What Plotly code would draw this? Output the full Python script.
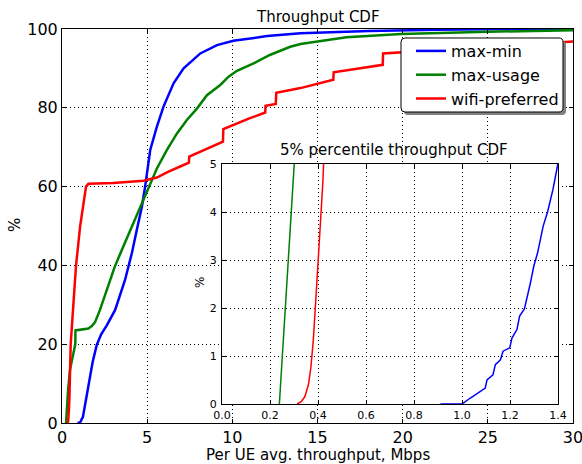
import plotly.graph_objects as go

# ---------------- data ----------------
series_names = ["max-min", "max-usage", "wifi-preferred"]

maxmin_x = [0.91, 1.0, 1.035, 1.076, 1.097, 1.104, 1.129, 1.139, 1.16, 1.171, 1.199, 1.208, 1.229,
            1.24, 1.26, 1.285, 1.299, 1.315, 1.338, 1.357, 1.379, 1.399, 1.5, 1.62, 1.8, 2.04,
            2.3, 2.63, 3.12, 3.7, 4.1, 4.39, 4.69, 4.88, 5.18, 5.57, 5.96, 6.55, 7.14, 8.12,
            9.1, 10.06, 12.04, 14.0, 18.0, 22.0, 26.0, 30.0]
maxmin_y = [0, 0, 0.125, 0.26, 0.33, 0.5, 0.61, 0.82, 0.92, 1.1, 1.17, 1.375, 1.55,
            1.83, 1.98, 2.52, 2.87, 3.15, 3.7, 4.01, 4.47, 4.99, 7.5, 11.0, 15.5, 19.8,
            22.5, 24.8, 28.7, 36.3, 43.1, 49.0, 54.9, 60.0, 69.3, 75.2, 80.3, 86.2, 90.0, 93.8,
            95.9, 97.0, 98.2, 98.9, 99.5, 99.8, 100.0, 100.0]

maxusage_x = [0.239, 0.301, 0.35, 0.47, 0.6, 0.7, 0.78, 0.79, 1.0, 1.3, 1.55, 1.75, 1.94, 2.23,
              2.6, 3.1, 3.6, 4.1, 4.78, 5.08, 5.57, 6.16, 6.75, 7.33, 7.92, 8.51, 9.29, 9.78,
              10.27, 11.25, 12.2, 13.4, 14.0, 16.7, 19.9, 25.0, 30.0]
maxusage_y = [0, 5, 8, 13.5, 16.5, 18.5, 20, 23.5, 23.6, 23.7, 24.0, 24.6, 25.6, 28.7,
              33.5, 39.7, 44.8, 49.8, 56.6, 60.0, 64.6, 69.3, 73.5, 76.9, 79.8, 83.2, 85.8, 87.9,
              89.4, 91.3, 93.4, 95.5, 96.2, 97.9, 98.7, 99.3, 99.7]

wifi_x = [0.313, 0.33, 0.345, 0.36, 0.37, 0.38, 0.39, 0.40, 0.41, 0.42, 0.44, 0.51, 0.67, 0.82,
          1.06, 1.29, 1.41, 1.55, 2.2, 3.0, 4.2, 4.78, 5.57, 6.25, 6.94, 7.45, 7.47, 8.0, 8.5,
          9.45, 9.47, 10.0, 11.0, 11.93, 11.95, 12.55, 12.58, 14.0, 15.93, 15.95, 18.83, 18.85,
          19.9, 25.0, 29.0, 30.0]
wifi_y = [0, 0.05, 0.15, 0.4, 0.75, 1.3, 2.1, 2.9, 3.7, 4.6, 7.0, 20, 31.2, 39.8,
          49.8, 57, 60.0, 60.7, 60.8, 60.9, 61.3, 61.5, 62.3, 63.8, 65.1, 66.1, 67.6, 68.6, 69.5,
          71.4, 74.6, 75.6, 77.3, 78.8, 80.5, 81.0, 83.8, 85.0, 87.1, 89.0, 90.9, 93.8,
          94.1, 95.5, 96.7, 96.8]

colors = ["#0000FF", "#008000", "#FF0000"]

main_xticks = [0, 5, 10, 15, 20, 25, 30]
main_yticks = [0, 20, 40, 60, 80, 100]
inset_xticks = [0.0, 0.2, 0.4, 0.6, 0.8, 1.0, 1.2, 1.4]
inset_yticks = [0, 1, 2, 3, 4, 5]

# ---------------- figure ----------------
W, H = 582, 464
L, R, T, B = 62, 9, 29, 41
pw, ph = W - L - R, H - T - B


def px2paper(px, py):
    return (px - L) / pw, (H - B - py) / ph


FONT = "DejaVu Sans"
fig = go.Figure()

data = [(maxmin_x, maxmin_y), (maxusage_x, maxusage_y), (wifi_x, wifi_y)]
for name, (xs, ys), c in zip(series_names, data, colors):
    fig.add_trace(go.Scatter(x=xs, y=ys, mode="lines", name=name,
                             line=dict(color=c, width=2.5), xaxis="x", yaxis="y"))
for name, (xs, ys), c in zip(series_names, data, colors):
    fig.add_trace(go.Scatter(x=xs, y=ys, mode="lines", name=name,
                             showlegend=False, line=dict(color=c, width=1.5),
                             xaxis="x2", yaxis="y2"))

grid = dict(showgrid=True, gridcolor="black", gridwidth=1, griddash="1px,3px",
            zeroline=False, showline=True, linecolor="black", linewidth=1,
            ticks="inside", ticklen=4, tickcolor="black", mirror="allticks",
            automargin=False, ticklabeloverflow="allow")

ix0, iy0 = px2paper(222, 404)
ix1, iy1 = px2paper(558, 164)

fig.update_layout(
    width=W, height=H, autosize=False,
    margin=dict(l=L, r=R, t=T, b=B, pad=0),
    paper_bgcolor="white", plot_bgcolor="white",
    font=dict(family=FONT, color="black"),
    showlegend=True,
    xaxis=dict(domain=[0, 1], range=[0, 30], tickvals=main_xticks,
               tickfont=dict(size=16), anchor="y", **grid),
    yaxis=dict(domain=[0, 1], range=[0, 100], tickvals=main_yticks,
               tickfont=dict(size=16), anchor="x", **grid),
    xaxis2=dict(domain=[ix0, ix1], range=[0, 1.4], tickvals=inset_xticks, tickformat=".1f",
                tickfont=dict(size=11), anchor="y2", ticklabelstandoff=1, **grid),
    yaxis2=dict(domain=[iy0, iy1], range=[0, 5], tickvals=inset_yticks,
                tickfont=dict(size=11), anchor="x2", ticklabelstandoff=2, **grid),
    legend=dict(x=px2paper(411, 0)[0], y=px2paper(0, 34)[1], xanchor="left", yanchor="top",
                bgcolor="rgba(0,0,0,0)", borderwidth=0, font=dict(size=16),
                traceorder="normal"),
)

# opaque inset background (hides the main grid behind the inset)
fig.add_shape(type="rect", xref="x2 domain", yref="y2 domain", x0=0, x1=1, y0=0, y1=1,
              fillcolor="white", line=dict(width=0), layer="below")


def rounded(x0p, y0p, x1p, y1p, r):
    def P(x, y):
        a, b = px2paper(x, y)
        return f"{a:.5f},{b:.5f}"
    return (f"M {P(x0p + r, y0p)} L {P(x1p - r, y0p)} Q {P(x1p, y0p)} {P(x1p, y0p + r)} "
            f"L {P(x1p, y1p - r)} Q {P(x1p, y1p)} {P(x1p - r, y1p)} "
            f"L {P(x0p + r, y1p)} Q {P(x0p, y1p)} {P(x0p, y1p - r)} "
            f"L {P(x0p, y0p + r)} Q {P(x0p, y0p)} {P(x0p + r, y0p)} Z")


fig.add_shape(type="path", path=rounded(404, 41, 566, 115, 4), xref="paper", yref="paper",
              fillcolor="#808080", line=dict(width=0), layer="above")
fig.add_shape(type="path", path=rounded(401, 38, 563, 112, 4), xref="paper", yref="paper",
              fillcolor="white", line=dict(color="black", width=1), layer="above")

tx, ty = px2paper(317.5, 17)
fig.add_annotation(text="Throughput CDF", x=tx, y=ty, xref="paper", yref="paper",
                   showarrow=False, font=dict(size=15), xanchor="center", yanchor="middle")
tx, ty = px2paper(317.5, 455)
fig.add_annotation(text="Per UE avg. throughput, Mbps", x=tx, y=ty, xref="paper", yref="paper",
                   showarrow=False, font=dict(size=15), xanchor="center", yanchor="middle")
tx, ty = px2paper(15, 225)
fig.add_annotation(text="%", x=tx, y=ty, xref="paper", yref="paper", textangle=-90,
                   showarrow=False, font=dict(size=15), xanchor="center", yanchor="middle")
tx, ty = px2paper(394, 150)
fig.add_annotation(text="5% percentile throughput CDF", x=tx, y=ty, xref="paper", yref="paper",
                   showarrow=False, font=dict(size=15), xanchor="center", yanchor="middle")
tx, ty = px2paper(200, 283)
fig.add_annotation(text="%", x=tx, y=ty, xref="paper", yref="paper", textangle=-90,
                   showarrow=False, font=dict(size=12), xanchor="center", yanchor="middle")

fig.write_html("out.html")
